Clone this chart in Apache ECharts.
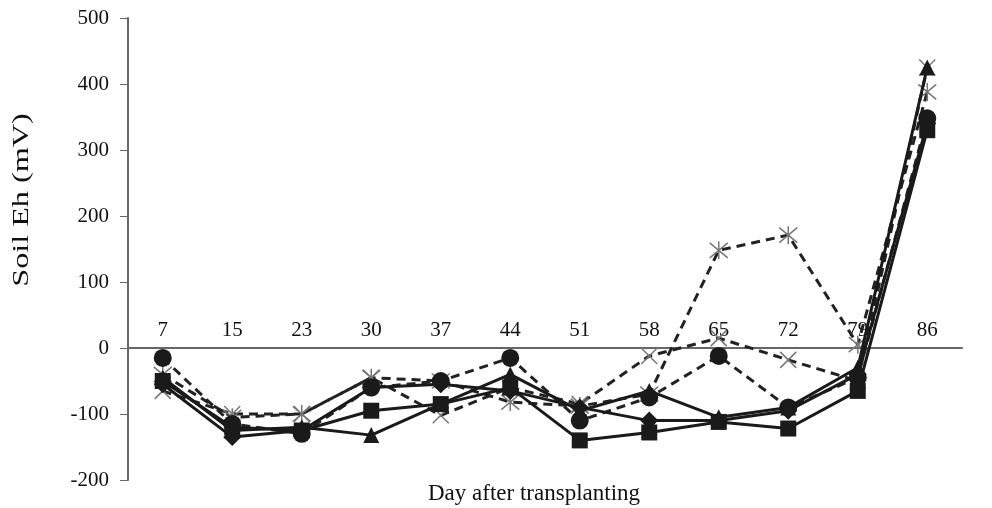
<!DOCTYPE html>
<html>
<head>
<meta charset="utf-8">
<script src="https://cdn.jsdelivr.net/npm/echarts@6/dist/echarts.min.js"></script>
<style>
  html, body { margin: 0; padding: 0; background: #fff; }
  #main { width: 992px; height: 508px; }
</style>
</head>
<body>
<div id="main"></div>
<script>
const days = ['7', '15', '23', '30', '37', '44', '51', '58', '65', '72', '79', '86'];

// solid lines
const diamondVals  = [-55, -135, -125, -60, -55, -65, -90, -110, -110, -95, -40, 340];
const squareVals   = [-50, -120, -125, -95, -85, -60, -140, -128, -112, -122, -65, 330];
const triangleVals = [-45, -125, -120, -132, -85, -40, -95, -65, -105, -90, -30, 425];
// dashed lines
const circleVals   = [-15, -115, -130, -60, -50, -15, -110, -75, -12, -90, -45, 348];
const crossVals    = [-65, -100, -100, -45, -102, -60, -85, -12, 15, -18, -50, 425];
const starVals     = [-40, -105, -100, -45, -50, -82, -88, -70, 148, 171, 5, 388];

const SERIF = '"Liberation Serif", "DejaVu Serif", serif';
const CROSS = 'path://M0,0L10,10M10,0L0,10';
const STAR = 'path://M0,0L10,10M10,0L0,10M5,-1L5,11';

const chart = echarts.init(document.getElementById('main'));

function solid(data, symbol, size) {
  return {
    type: 'line', data: data, symbol: symbol, symbolSize: size,
    lineStyle: { color: '#1a1a1a', width: 3 },
    itemStyle: { color: '#1a1a1a' },
    z: 3
  };
}
function dashed(data, symbol, size, markerStyle) {
  return {
    type: 'line', data: data, symbol: symbol, symbolSize: size,
    lineStyle: { color: '#222', width: 3, type: [9, 6] },
    itemStyle: markerStyle,
    z: 2
  };
}

// the category axis sits on y = 0: 200 of 700 units above the grid bottom (462px tall)
const zeroOffset = -Math.round(462 * 200 / 700);

chart.setOption({
  animation: false,
  backgroundColor: '#fff',
  grid: { left: 128, right: 30, top: 18, bottom: 28, outerBoundsMode: 'none' },
  xAxis: {
    type: 'category',
    data: days,
    offset: zeroOffset,
    axisLine: { onZero: false, lineStyle: { color: '#666', width: 2 } },
    axisTick: { inside: true, alignWithLabel: true, length: 5, lineStyle: { color: '#666' } },
    axisLabel: { margin: -28, fontFamily: SERIF, fontSize: 21, color: '#111' },
    splitLine: { show: false }
  },
  yAxis: {
    type: 'value',
    min: -200, max: 500, interval: 100,
    axisLine: { show: true, lineStyle: { color: '#666', width: 2 } },
    axisTick: { show: true, length: 8, lineStyle: { color: '#666' } },
    axisLabel: { margin: 19, fontFamily: SERIF, fontSize: 21, color: '#111' },
    splitLine: { show: false }
  },
  graphic: [
    {
      type: 'text', x: 22, y: 200, rotation: Math.PI / 2, scaleX: 1.4,
      style: { text: 'Soil Eh (mV)', font: '23px ' + SERIF, fill: '#111', align: 'center', verticalAlign: 'middle' }
    },
    {
      type: 'text', x: 534, y: 494,
      style: { text: 'Day after transplanting', font: '23px ' + SERIF, fill: '#111', align: 'center', verticalAlign: 'middle' }
    }
  ],
  series: [
    dashed(crossVals, CROSS, 16, { color: 'none', borderColor: '#777', borderWidth: 1.5 }),
    dashed(starVals, STAR, 18, { color: 'none', borderColor: '#777', borderWidth: 1.5 }),
    dashed(circleVals, 'circle', 18, { color: '#1a1a1a' }),
    solid(diamondVals, 'diamond', 18),
    solid(squareVals, 'rect', 16),
    solid(triangleVals, 'triangle', 16)
  ]
});
</script>
</body>
</html>
